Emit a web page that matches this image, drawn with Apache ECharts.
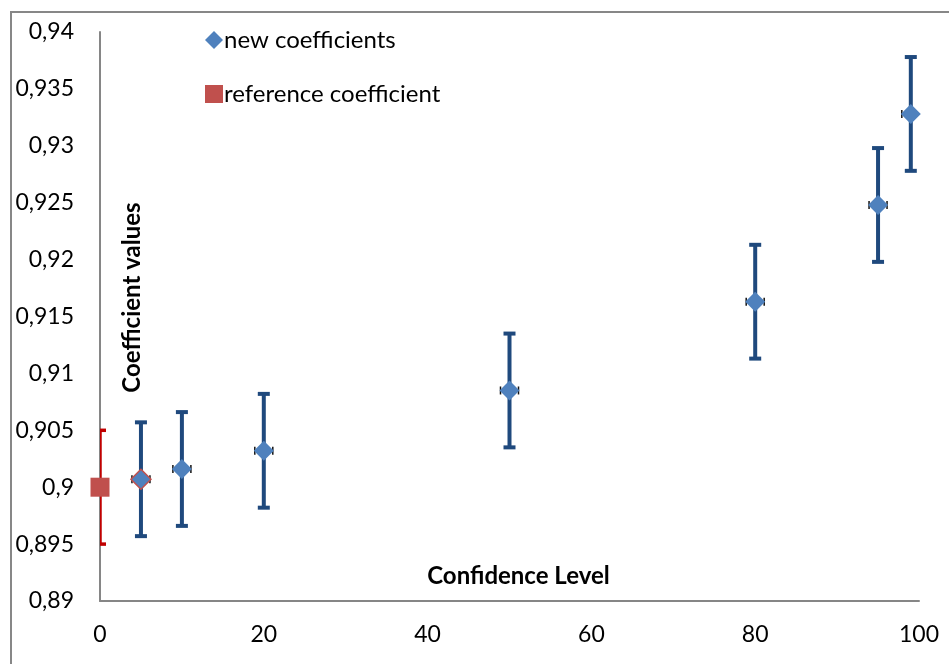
<!DOCTYPE html>
<html>
<head>
<meta charset="utf-8">
<script src="https://cdn.jsdelivr.net/npm/echarts@6/dist/echarts.min.js"></script>
<style>
  html, body { margin: 0; padding: 0; background: #ffffff; }
  #chart { width: 949px; height: 664px; }
</style>
</head>
<body>
<div id="chart"></div>
<script>
// Confidence levels and the coefficient estimated at each of them
const confidenceLevels = [5, 10, 20, 50, 80, 95, 99];
const newCoefficients = [0.9007, 0.9016, 0.9032, 0.9085, 0.9163, 0.9248, 0.9328];
const newErrors = [0.005, 0.005, 0.005, 0.005, 0.005, 0.005, 0.005];

// Reference coefficient at level 0
const referenceLevels = [0];
const referenceCoefficient = [0.9];
const referenceErrors = [0.005];

const FONT = 'Lato, "Open Sans", sans-serif';
const BLUE = '#4F81BD';
const DARK_BLUE = '#1F497D';
const RED = '#C0504D';
const BAR_RED = '#C00000';

const newPoints = confidenceLevels.map((x, i) => {
  const p = { value: [x, newCoefficients[i]] };
  if (i === 0) p.itemStyle = { borderColor: RED, borderWidth: 1.5 };
  return p;
});
const newBars = confidenceLevels.map((x, i) => [x, newCoefficients[i] - newErrors[i], newCoefficients[i] + newErrors[i], newCoefficients[i]]);
const refPoints = referenceLevels.map((x, i) => [x, referenceCoefficient[i]]);
const refBars = referenceLevels.map((x, i) => [x, referenceCoefficient[i] - referenceErrors[i], referenceCoefficient[i] + referenceErrors[i], referenceCoefficient[i]]);

// vertical error bar with flat caps; optional tiny caps beside the marker
function errorBar(color, width, capHalf, withSideCaps) {
  return function (params, api) {
    const x = api.value(0);
    const lo = api.coord([x, api.value(1)]);
    const hi = api.coord([x, api.value(2)]);
    const mid = api.coord([x, api.value(3)]);
    const style = { stroke: color, lineWidth: width, fill: null };
    const children = [
      { type: 'line', shape: { x1: hi[0], y1: hi[1], x2: lo[0], y2: lo[1] }, style },
      { type: 'line', shape: { x1: hi[0] - capHalf, y1: hi[1], x2: hi[0] + capHalf, y2: hi[1] }, style },
      { type: 'line', shape: { x1: lo[0] - capHalf, y1: lo[1], x2: lo[0] + capHalf, y2: lo[1] }, style }
    ];
    if (withSideCaps) {
      const s = { stroke: '#111111', lineWidth: 1.5, fill: null };
      [-9, 9].forEach(d => {
        children.push({ type: 'line', shape: { x1: mid[0] + d, y1: mid[1] - 4, x2: mid[0] + d, y2: mid[1] + 4 }, style: s });
      });
    }
    return { type: 'group', children };
  };
}

const chart = echarts.init(document.getElementById('chart'));
chart.setOption({
  backgroundColor: '#ffffff',
  animation: false,
  textStyle: { fontFamily: FONT },
  graphic: [{
    type: 'rect',
    shape: { x: 11, y: 12, width: 980, height: 700 },
    style: { fill: null, stroke: '#878787', lineWidth: 2 },
    silent: true
  }],
  grid: { left: 100, right: 30, top: 32, bottom: 63, containLabel: false, outerBoundsMode: 'none' },
  legend: {
    orient: 'vertical',
    left: 200,
    top: 23,
    itemWidth: 18,
    itemHeight: 18,
    itemGap: 30,
    textStyle: { fontFamily: FONT, fontSize: 24, color: '#000000', padding: [0, 0, 0, -4] },
    data: [
      { name: 'new coefficients', icon: 'diamond' },
      { name: 'reference coefficient', icon: 'rect' }
    ]
  },
  xAxis: {
    type: 'value',
    min: 0, max: 100, interval: 20,
    name: 'Confidence Level',
    nameLocation: 'middle',
    nameGap: -37,
    nameMoveOverlap: false,
    nameTextStyle: { fontFamily: FONT, fontSize: 24, fontWeight: 'bold', color: '#000000', padding: [0, 0, 0, 18] },
    axisLine: { show: true, lineStyle: { color: '#868686', width: 2 } },
    axisTick: { show: false },
    splitLine: { show: false },
    axisLabel: { fontFamily: FONT, fontSize: 23, color: '#000000', margin: 22 }
  },
  yAxis: {
    type: 'value',
    min: 0.89, max: 0.94, interval: 0.005,
    name: 'Coefficient values',
    nameLocation: 'middle',
    nameRotate: 90,
    nameGap: -44,
    nameMoveOverlap: false,
    nameTextStyle: { fontFamily: FONT, fontSize: 24, fontWeight: 'bold', color: '#000000', padding: [0, 0, 0, 38] },
    axisLine: { show: true, lineStyle: { color: '#868686', width: 2 } },
    axisTick: { show: false },
    splitLine: { show: false },
    axisLabel: {
      fontFamily: FONT, fontSize: 23, color: '#000000', margin: 26,
      formatter: v => String(parseFloat(v.toFixed(3))).replace('.', ',')
    }
  },
  series: [
    {
      name: 'reference bars',
      type: 'custom',
      renderItem: errorBar(BAR_RED, 3.5, 6, false),
      data: refBars,
      clip: true,
      z: 2,
      silent: true
    },
    {
      name: 'new bars',
      type: 'custom',
      renderItem: errorBar(DARK_BLUE, 4, 6, true),
      data: newBars,
      clip: true,
      z: 2,
      silent: true
    },
    {
      name: 'new coefficients',
      type: 'scatter',
      symbol: 'diamond',
      symbolSize: 20,
      itemStyle: { color: BLUE, opacity: 1 },
      data: newPoints,
      z: 5
    },
    {
      name: 'reference coefficient',
      type: 'scatter',
      symbol: 'rect',
      symbolSize: 19,
      itemStyle: { color: RED, opacity: 1 },
      data: refPoints,
      clip: false,
      z: 5
    }
  ]
});
</script>
</body>
</html>
